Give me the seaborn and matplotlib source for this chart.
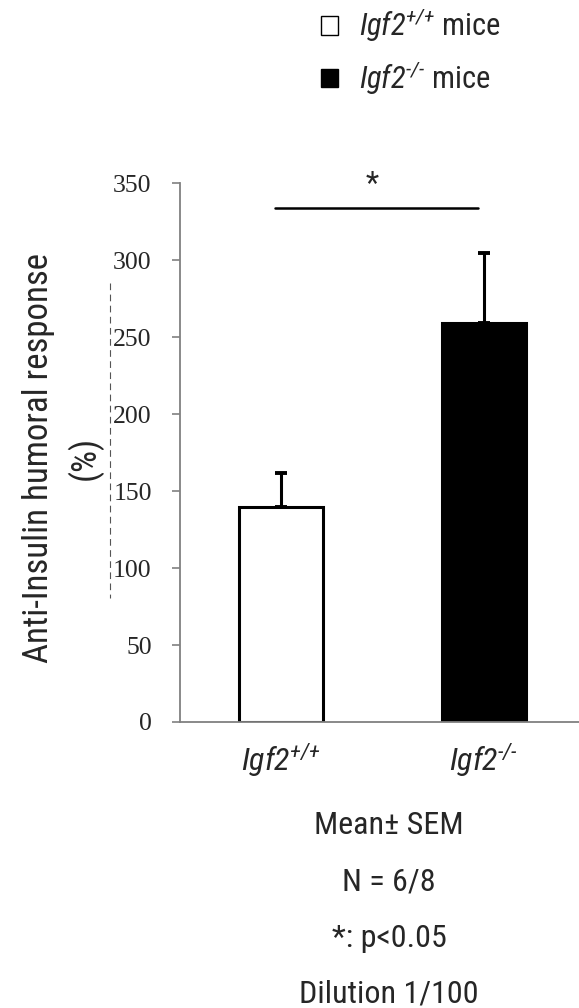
import matplotlib
matplotlib.use("Agg")
import matplotlib.pyplot as plt
from matplotlib import font_manager
from matplotlib.patches import Patch
from matplotlib.lines import Line2D
import seaborn as sns
import pandas as pd

# ---- data ----
genotypes = ["Igf2+/+", "Igf2-/-"]
tick_labels = [r"$Igf2^{\text{+/+}}$", r"$Igf2^{\text{-/-}}$"]
legend_labels = [r"$Igf2^{\text{+/+}}$ mice", r"$Igf2^{\text{-/-}}$ mice"]
means = [140, 259]
sems = [22, 46]
bar_colors = ["white", "black"]
y_ticks = [0, 50, 100, 150, 200, 250, 300, 350]
sig_y = 334
notes = ["Mean\u00b1 SEM", "N = 6/8", "*: p<0.05", "Dilution 1/100"]

sns.set_style("white")
names = {f.name for f in font_manager.fontManager.ttflist}
sans = next((n for n in ["Roboto Condensed", "Archivo Narrow", "PT Sans Narrow"] if n in names),
            "Liberation Sans")
plt.rcParams["font.family"] = [sans, "DejaVu Sans"]
plt.rcParams["mathtext.fontset"] = "custom"
plt.rcParams["mathtext.rm"] = sans + ":italic"
plt.rcParams["mathtext.it"] = sans + ":italic"
plt.rcParams["mathtext.bf"] = sans + ":bold"

df = pd.DataFrame({"genotype": genotypes, "value": means})

fig = plt.figure(figsize=(5.79, 10.08), dpi=100)
ax = fig.add_axes([179.5 / 579, 1 - 722 / 1008, 406 / 579, 538.7 / 1008])

sns.barplot(data=df, x="genotype", y="value", hue="genotype", palette=bar_colors,
            edgecolor="black", linewidth=2.2, width=0.41, errorbar=None,
            legend=False, ax=ax)
ax.errorbar(x=[0, 1], y=means, yerr=[[0, 0], sems], fmt="none", ecolor="black",
            elinewidth=2.2, capsize=4.5, capthick=2.8, zorder=1)

ax.set_xlim(-0.5, 1.5)
ax.set_ylim(0, 350)
ax.set_yticks(y_ticks)
ax.set_yticklabels([str(t) for t in y_ticks], fontfamily="Liberation Serif", fontsize=18.5)
ax.set_xticks([0, 1])
ax.set_xticklabels(tick_labels, fontsize=23)
ax.set_xticks([-0.5, 0.5, 1.5], minor=True)
ax.tick_params(axis="x", which="major", length=0, pad=14)
ax.tick_params(axis="x", which="minor", length=6, width=1.2, color="#808080", direction="out")
ax.tick_params(axis="y", length=6, width=1.2, color="#808080", direction="out", pad=14, left=True)
ax.set_xlabel("")
for s in ["top", "right"]:
    ax.spines[s].set_visible(False)
for s in ["left", "bottom"]:
    ax.spines[s].set_color("#808080")
    ax.spines[s].set_linewidth(1.3)

ax.set_ylabel("Anti-Insulin humoral response\n(%)", fontsize=25, linespacing=1.4)
ax.yaxis.set_label_coords(-0.19, 0.49)

# significance
ax.plot([-0.03, 0.97], [sig_y, sig_y], color="black", lw=1.8, clip_on=False)
ax.text(0.447, sig_y + 6, "*", ha="center", va="bottom", fontsize=22, clip_on=False)

# artifact dashed line
fig.add_artist(Line2D([110 / 579, 110 / 579], [1 - 283 / 1008, 1 - 598 / 1008],
                      color="#555555", lw=0.8, ls=(0, (6, 4))))

# legend
handles = [Patch(facecolor=c, edgecolor="black", linewidth=1.0) for c in bar_colors]
fig.legend(handles, legend_labels, loc="upper left", bbox_to_anchor=(321 / 579, 1 - 7 / 1008),
           frameon=False, fontsize=22, handlelength=0.55, handleheight=0.55,
           handletextpad=0.7, labelspacing=0.5, borderpad=0, borderaxespad=0)

for i, t in enumerate(notes):
    fig.text(389 / 579, 1 - (834 + 56.3 * i) / 1008, t, ha="center", va="baseline",
             fontsize=23)

fig.savefig("out.png", dpi=100)
